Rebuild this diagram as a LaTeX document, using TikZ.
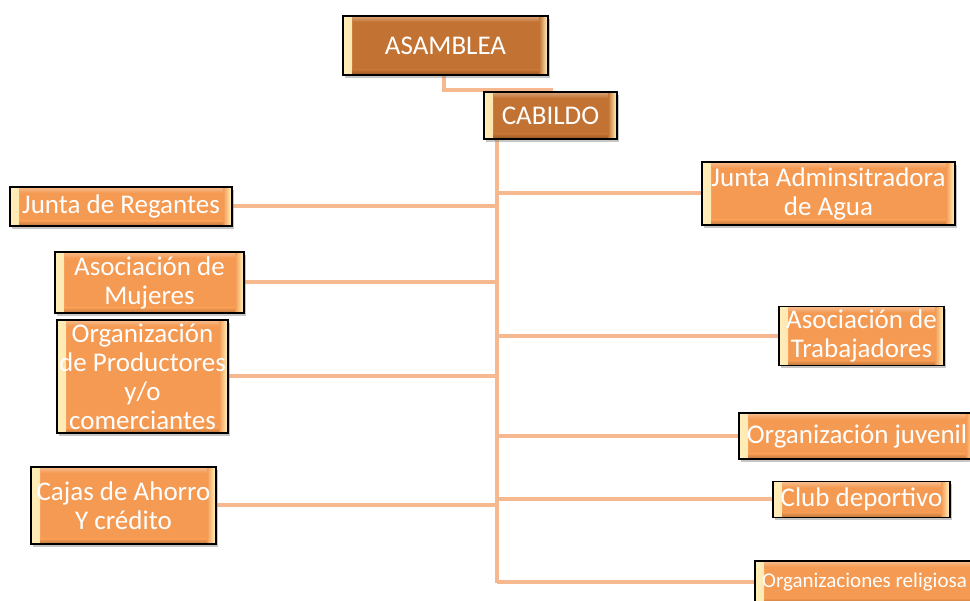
\documentclass[tikz,border=0pt]{standalone}
\usepackage{fontspec}
\setmainfont{Carlito}
\usetikzlibrary{shadows,backgrounds}
\definecolor{boxfill}{HTML}{F49A52}
\definecolor{boxdark}{HTML}{C27232}
\definecolor{bevelhi}{HTML}{FFEDB8}
\definecolor{linec}{HTML}{F6B98F}
\tikzset{
  obox/.style={draw=black, line width=1.6pt, fill=#1, inner sep=0pt,
    drop shadow={shadow xshift=2pt, shadow yshift=-3pt, opacity=0.45},
    path picture={
      \fill[left color=bevelhi, right color=#1] ([xshift=1pt,yshift=1pt]path picture bounding box.south west) rectangle ([xshift=9pt,yshift=-1pt]path picture bounding box.north west);
      \fill[right color=bevelhi, left color=#1] ([xshift=-1pt,yshift=1pt]path picture bounding box.south east) rectangle ([xshift=-9pt,yshift=-1pt]path picture bounding box.north east);
      \fill[top color=#1!70!white, bottom color=#1] ([xshift=9pt,yshift=-1pt]path picture bounding box.north west) rectangle ([xshift=-9pt,yshift=-6pt]path picture bounding box.north east);
      \fill[bottom color=#1!80!black, top color=#1] ([xshift=9pt,yshift=1pt]path picture bounding box.south west) rectangle ([xshift=-9pt,yshift=5pt]path picture bounding box.south east);
    }},
  obox/.default=boxfill,
  txt/.style={text=white, align=center, inner sep=0pt, font=\fontsize{27}{29}\selectfont},
  conn/.style={draw=linec, line width=4pt}
}
\begin{document}
\begin{tikzpicture}[x=1pt,y=-1pt]
\useasboundingbox (0,0) rectangle (970,601);
\node[obox=boxdark, minimum width=205pt, minimum height=59pt, label={[txt]center:ASAMBLEA}] (asamblea) at (445.5,45.5) {};
\node[obox=boxdark, minimum width=133pt, minimum height=47pt, label={[txt]center:CABILDO}] (cabildo) at (550.5,115.5) {};
\node[obox, minimum width=222pt, minimum height=39pt, label={[txt]center:Junta de Regantes}] (regantes) at (121,206.5) {};
\node[obox, minimum width=189pt, minimum height=61pt, label={[txt]center:Asociación de\\Mujeres}] (mujeres) at (149.5,282.5) {};
\node[obox, minimum width=171pt, minimum height=113pt, label={[txt]center:Organización\\de Productores\\y/o\\comerciantes}] (productores) at (142.5,376.5) {};
\node[obox, minimum width=185pt, minimum height=77pt, label={[txt]center:Cajas de Ahorro\\Y crédito}] (cajas) at (123.5,505.5) {};
\node[obox, minimum width=253pt, minimum height=63pt, label={[txt]center:Junta Adminsitradora\\de Agua}] (agua) at (828.5,193.5) {};
\node[obox, minimum width=165pt, minimum height=59pt, label={[txt]center:Asociación de\\Trabajadores}] (trabajadores) at (861.5,336) {};
\node[obox, minimum width=236pt, minimum height=46pt, label={[txt]center:Organización juvenil}] (juvenil) at (857,436) {};
\node[obox, minimum width=177pt, minimum height=36pt, label={[txt]center:Club deportivo}] (club) at (861.5,499.5) {};
\node[obox, minimum width=225pt, minimum height=42pt, label={[txt,font=\fontsize{21}{24}\selectfont,xshift=-3pt]center:Organizaciones religiosa}] (religiosa) at (867.5,582) {};
\coordinate (tk) at (497,583);
\coordinate (bend) at (444,90);
\begin{scope}[on background layer]
\draw[conn] (asamblea.south -| bend) -- (bend) -- (bend -| cabildo.north) -- (cabildo.north);
\draw[conn] (cabildo.south -| tk) -- (tk);
\draw[conn] (regantes.east) -- (regantes.east -| tk);
\draw[conn] (mujeres.east) -- (mujeres.east -| tk);
\draw[conn] (productores.east) -- (productores.east -| tk);
\draw[conn] (cajas.east) -- (cajas.east -| tk);
\draw[conn] (agua.west -| tk) -- (agua.west);
\draw[conn] (trabajadores.west -| tk) -- (trabajadores.west);
\draw[conn] (juvenil.west -| tk) -- (juvenil.west);
\draw[conn] (club.west -| tk) -- (club.west);
\draw[conn] (religiosa.west -| tk) -- (religiosa.west);
\end{scope}
\end{tikzpicture}
\end{document}
